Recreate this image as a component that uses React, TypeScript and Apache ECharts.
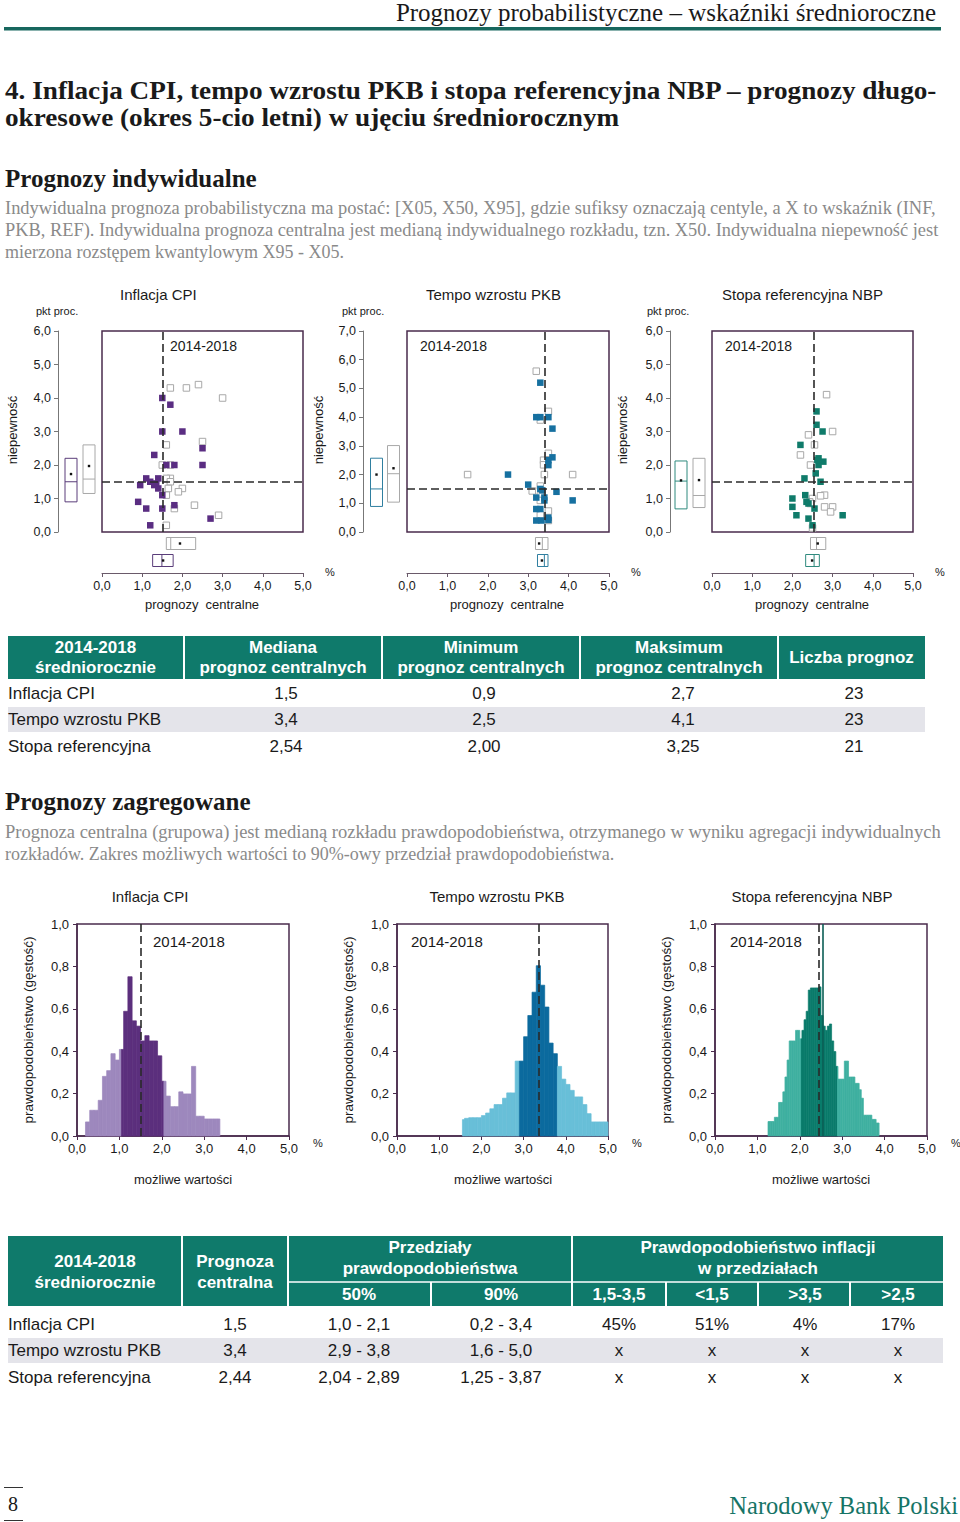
import React, { useEffect, useRef } from "react";
import * as echarts from "echarts";

const SANS = "'Liberation Sans', Arial, Helvetica, sans-serif";
const SERIF = "'Liberation Serif', 'Times New Roman', serif";
const FRAME = "#4a2b4c";
const TEAL = "#0f7a6b";
const GRAYPT = "#a8a8a8";

// ---------- individual forecasts: [central forecast, uncertainty] ----------
const cpiCurrent = [[1.5, 4.0], [1.7, 3.8], [1.5, 3.0], [2.0, 3.0], [2.5, 2.5], [1.3, 2.3], [1.6, 2.0], [1.8, 2.0], [2.5, 2.0], [1.1, 1.6], [0.95, 1.4], [1.2, 1.5], [1.3, 1.4], [1.4, 1.6], [1.4, 1.3], [1.5, 1.1], [0.9, 0.9], [1.1, 0.7], [1.5, 0.7], [1.8, 0.8], [2.7, 0.4], [1.2, 0.2], [1.35, 1.45]];
const cpiPrevious = [[1.7, 4.3], [2.1, 4.3], [2.4, 4.4], [3.0, 4.0], [2.5, 2.7], [1.6, 2.6], [1.5, 2.0], [1.7, 2.0], [1.7, 1.6], [1.6, 1.6], [1.7, 1.5], [1.65, 1.3], [2.0, 1.3], [1.9, 1.2], [1.6, 1.1], [1.8, 0.7], [2.3, 0.8], [2.9, 0.5], [1.6, 0.2]];
const pkbCurrent = [[3.3, 5.2], [3.2, 4.0], [3.3, 4.0], [3.5, 4.0], [3.6, 3.6], [3.6, 2.6], [3.5, 2.5], [3.5, 2.33], [2.5, 2.0], [3.0, 1.65], [3.3, 1.5], [3.7, 1.4], [3.2, 1.2], [3.4, 1.1], [3.4, 1.2], [4.1, 1.1], [3.2, 0.8], [3.3, 0.8], [3.2, 0.4], [3.33, 0.4], [3.5, 0.5], [3.5, 0.42], [3.35, 1.45]];
const pkbPrevious = [[3.2, 5.6], [3.5, 4.2], [3.3, 3.9], [3.5, 2.74], [3.38, 2.5], [3.38, 2.34], [1.5, 2.0], [3.4, 2.0], [4.1, 2.0], [3.3, 1.6], [3.1, 1.43], [3.3, 1.25], [3.3, 1.1], [3.3, 0.6], [3.5, 0.73], [3.5, 0.4]];
const refCurrent = [[2.6, 3.6], [2.6, 3.2], [2.75, 3.0], [2.2, 2.6], [2.65, 2.2], [2.77, 2.1], [2.65, 2.0], [2.58, 1.75], [2.3, 1.6], [2.7, 1.5], [2.0, 1.0], [2.32, 1.1], [2.35, 0.9], [2.0, 0.75], [2.55, 0.7], [2.1, 0.5], [3.25, 0.5], [2.4, 0.4], [2.5, 0.2], [2.4, 0.85], [2.62, 2.15]];
const refPrevious = [[2.85, 4.1], [3.0, 3.0], [2.4, 2.9], [2.55, 2.6], [2.2, 2.3], [2.45, 2.0], [2.8, 1.1], [2.7, 1.08], [2.5, 1.0], [2.43, 0.9], [2.8, 0.75], [3.0, 0.75], [2.95, 0.6], [2.45, 0.85], [2.5, 0.12]];

// box summaries: [low, median, high, mean]
const cpiUncCurrent = [0.9, 1.5, 2.2, 1.73];
const cpiUncPrevious = [1.15, 1.58, 2.6, 1.97];
const cpiCenPrevious = [1.6, 1.71, 2.33, 1.94];
const cpiCenCurrent = [1.26, 1.49, 1.77, 1.52];
const pkbUncCurrent = [0.89, 1.5, 2.57, 2.0];
const pkbUncPrevious = [1.04, 2.03, 3.01, 2.22];
const pkbCenPrevious = [3.18, 3.35, 3.49, 3.27];
const pkbCenCurrent = [3.23, 3.4, 3.49, 3.34];
const refUncCurrent = [0.69, 1.52, 2.12, 1.54];
const refUncPrevious = [0.73, 1.09, 2.2, 1.55];
const refCenPrevious = [2.45, 2.6, 2.83, 2.63];
const refCenCurrent = [2.33, 2.54, 2.67, 2.49];
// median lines (central forecast, uncertainty)
const cpiMedianLines = [1.5, 1.5];
const pkbMedianLines = [3.4, 1.5];
const refMedianLines = [2.54, 1.5];

// ---------- aggregated densities ----------
const cpiBinStart = 0.2, cpiBinStep = 0.1;
const cpiDensity = [0.068, 0.123, 0.123, 0.17, 0.283, 0.31, 0.39, 0.36, 0.41, 0.59, 0.753, 0.545, 0.52, 0.45, 0.475, 0.45, 0.45, 0.38, 0.26, 0.19, 0.14, 0.14, 0.21, 0.2, 0.2, 0.33, 0.095, 0.095, 0.082, 0.082, 0.082, 0.082];
const cpiRange90 = [0.2, 3.37];
const cpiRange50 = [1.05, 2.05];
const cpiCentral = 1.5;

const pkbBinStart = 1.5, pkbBinStep = 0.1;
const pkbDensity = [0.079, 0.085, 0.088, 0.088, 0.088, 0.098, 0.11, 0.13, 0.15, 0.15, 0.18, 0.205, 0.205, 0.355, 0.355, 0.47, 0.57, 0.68, 0.805, 0.713, 0.61, 0.44, 0.39, 0.33, 0.27, 0.245, 0.217, 0.186, 0.186, 0.15, 0.107, 0.068, 0.068, 0.068, 0.068];
const pkbRange90 = [1.55, 5.0];
const pkbRange50 = [2.9, 3.8];
const pkbCentral = 3.35;

const refBinStart = 1.25, refBinStep = 0.05;
const refDensity = [0.07, 0.07, 0.07, 0.09, 0.09, 0.16, 0.16, 0.21, 0.28, 0.36, 0.45, 0.45, 0.45, 0.5, 0.5, 0.46, 0.5, 0.55, 0.59, 0.69, 0.7, 0.7, 0.7, 0.7, 0.705, 0.57, 0.52, 0.5, 0.52, 0.53, 0.45, 0.4, 0.33, 0.27, 0.27, 0.27, 0.355, 0.355, 0.28, 0.28, 0.28, 0.25, 0.25, 0.22, 0.18, 0.1, 0.1, 0.1, 0.1, 0.08, 0.08, 0.063, 0.063];
const refRange90 = [1.25, 3.87];
const refRange50 = [2.04, 2.89];
const refCentral = 2.44;
const refIndividualMedian = 2.54;

// ---------- tables ----------
const table1Rows = ["Inflacja CPI", "Tempo wzrostu PKB", "Stopa referencyjna"];
const table1Median = ["1,5", "3,4", "2,54"];
const table1Min = ["0,9", "2,5", "2,00"];
const table1Max = ["2,7", "4,1", "3,25"];
const table1Count = ["23", "23", "21"];

const table2Central = ["1,5", "3,4", "2,44"];
const table2P50 = ["1,0 - 2,1", "2,9 - 3,8", "2,04 - 2,89"];
const table2P90 = ["0,2 - 3,4", "1,6 - 5,0", "1,25 - 3,87"];
const table2ProbHeads = ["1,5-3,5", "<1,5", ">3,5", ">2,5"];
const table2Probs = [["45%", "51%", "4%", "17%"], ["x", "x", "x", "x"], ["x", "x", "x", "x"]];

const fmt1 = (v: number) => v.toFixed(1).replace(".", ",");

function T(text: string, x: number, y: number, size: number, o: any = {}) {
  const align = o.align || "left";
  return {
    type: "text",
    x,
    y,
    rotation: o.rotation || 0,
    scaleX: o.sx || 1,
    silent: true,
    z: 100,
    style: {
      text,
      fill: o.fill || "#1a1a1a",
      fontSize: size,
      fontFamily: o.family || SANS,
      fontWeight: o.weight || "normal",
      align,
      verticalAlign: "middle",
      textAlign: align,
      textVerticalAlign: "middle",
    },
  };
}
const R = (x: number, y: number, w: number, h: number, fill: string) => ({
  type: "rect", silent: true, z: 50, shape: { x, y, width: w, height: h }, style: { fill },
});
const L = (x1: number, y1: number, x2: number, y2: number, stroke: string, lw = 1) => ({
  type: "line", silent: true, z: 60, shape: { x1, y1, x2, y2 }, style: { stroke, lineWidth: lw },
});

function buildOption() {
  const grid: any[] = [];
  const xAxis: any[] = [];
  const yAxis: any[] = [];
  const series: any[] = [];
  const graphic: any[] = [];
  const lab = { color: "#1a1a1a", fontSize: 12.5, fontFamily: SANS };

  const vBox = (colors: string[]) => (params: any, api: any) => {
    const c = api.value(0);
    const pLo = api.coord([c, api.value(1)]);
    const pMed = api.coord([c, api.value(2)]);
    const pHi = api.coord([c, api.value(3)]);
    const pMean = api.coord([c, api.value(4)]);
    const col = colors[params.dataIndex];
    const hw = 6;
    return {
      type: "group",
      children: [
        { type: "rect", shape: { x: pLo[0] - hw, y: pHi[1], width: 2 * hw, height: pLo[1] - pHi[1] }, style: { fill: "#fff", stroke: col, lineWidth: 1 } },
        { type: "line", shape: { x1: pLo[0] - hw, y1: pMed[1], x2: pLo[0] + hw, y2: pMed[1] }, style: { stroke: col, lineWidth: 1 } },
        { type: "rect", shape: { x: pMean[0] - 1.2, y: pMean[1] - 1.2, width: 2.4, height: 2.4 }, style: { fill: "#111" } },
      ],
    };
  };
  const hBox = (colors: string[]) => (params: any, api: any) => {
    const c = api.value(0);
    const pLo = api.coord([api.value(1), c]);
    const pMed = api.coord([api.value(2), c]);
    const pHi = api.coord([api.value(3), c]);
    const pMean = api.coord([api.value(4), c]);
    const col = colors[params.dataIndex];
    const hh = 6;
    return {
      type: "group",
      children: [
        { type: "rect", shape: { x: pLo[0], y: pLo[1] - hh, width: pHi[0] - pLo[0], height: 2 * hh }, style: { fill: "#fff", stroke: col, lineWidth: 1 } },
        { type: "line", shape: { x1: pMed[0], y1: pLo[1] - hh, x2: pMed[0], y2: pLo[1] + hh }, style: { stroke: col, lineWidth: 1 } },
        { type: "rect", shape: { x: pMean[0] - 1.2, y: pMean[1] - 1.2, width: 2.4, height: 2.4 }, style: { fill: "#111" } },
      ],
    };
  };

  function scatterPanel(p: any) {
    const gi = grid.length;
    grid.push({ left: p.left, top: 331, width: p.w, height: 201, show: true, borderColor: FRAME, borderWidth: 1.5, backgroundColor: "rgba(0,0,0,0)" });
    const xi = xAxis.length;
    xAxis.push({
      type: "value", gridIndex: gi, min: 0, max: 5, interval: 1, offset: 41,
      axisLine: { show: true, onZero: false, lineStyle: { color: "#6a5a6a", width: 1 } },
      axisTick: { show: true, length: 4, lineStyle: { color: "#6a5a6a" } },
      axisLabel: { ...lab, margin: 6, formatter: fmt1 }, splitLine: { show: false },
    });
    const yi = yAxis.length;
    yAxis.push({
      type: "value", gridIndex: gi, min: 0, max: p.yMax, interval: 1, offset: p.yOffset,
      axisLine: { show: true, onZero: false, lineStyle: { color: "#777", width: 1 } },
      axisTick: { show: true, length: 4, lineStyle: { color: "#777" } },
      axisLabel: { ...lab, margin: 7, formatter: fmt1 }, splitLine: { show: false },
    });
    series.push({ type: "scatter", xAxisIndex: xi, yAxisIndex: yi, data: p.previous, symbol: "rect", symbolSize: 6.5, itemStyle: { color: "#ffffff", borderColor: GRAYPT, borderWidth: 1, opacity: 1 }, z: 2, silent: true });
    series.push({ type: "scatter", xAxisIndex: xi, yAxisIndex: yi, data: p.current, symbol: "rect", symbolSize: 6.5, itemStyle: { color: p.color, opacity: 1 }, z: 3, silent: true });
    series.push({
      type: "scatter", xAxisIndex: xi, yAxisIndex: yi, data: [], z: 4,
      markLine: { silent: true, symbol: ["none", "none"], label: { show: false }, lineStyle: { type: [8, 4], color: "#2a2a2a", width: 1.6 }, data: [{ xAxis: p.lines[0] }, { yAxis: p.lines[1] }] },
    });

    // uncertainty boxes (left)
    const gl = grid.length;
    grid.push({ left: p.boxLeft, top: 331, width: p.boxW, height: 201 });
    const xl = xAxis.length;
    xAxis.push({ type: "category", gridIndex: gl, data: ["obecna", "poprzednia"], show: false });
    const yl = yAxis.length;
    yAxis.push({ type: "value", gridIndex: gl, min: 0, max: p.yMax, show: false, splitLine: { show: false } });
    series.push({
      type: "custom", xAxisIndex: xl, yAxisIndex: yl, encode: { x: 0, y: 1 }, silent: true, clip: false,
      renderItem: vBox([p.boxColor, GRAYPT]),
      data: [[0, ...p.uncCurrent], [1, ...p.uncPrevious]],
    });

    // central-forecast boxes (bottom)
    const gb = grid.length;
    grid.push({ left: p.left, top: 535, width: p.w, height: 34 });
    const xb = xAxis.length;
    xAxis.push({ type: "value", gridIndex: gb, min: 0, max: 5, show: false, splitLine: { show: false } });
    const yb = yAxis.length;
    yAxis.push({ type: "category", gridIndex: gb, data: ["poprzednia", "obecna"], inverse: true, show: false });
    series.push({
      type: "custom", xAxisIndex: xb, yAxisIndex: yb, encode: { x: 1, y: 0 }, silent: true, clip: false,
      renderItem: hBox([GRAYPT, p.boxColor]),
      data: [[0, ...p.cenPrevious], [1, ...p.cenCurrent]],
    });

    graphic.push(T(p.title, p.titleX, 294, 15));
    graphic.push(T("pkt proc.", p.pktX, 311, 11));
    graphic.push(T("niepewność", p.uncX, 430, 13, { align: "center", rotation: Math.PI / 2 }));
    graphic.push(T("2014-2018", p.periodX, 346, 14));
    graphic.push(T("%", p.left + p.w + 22, 572, 11));
    graphic.push(T("prognozy  centralne", p.left + 100, 604, 13, { align: "center" }));
  }

  function histPanel(p: any) {
    const gi = grid.length;
    grid.push({ left: p.left, top: 924, width: p.w, height: 212, show: true, borderColor: FRAME, borderWidth: 1.5, backgroundColor: "rgba(0,0,0,0)" });
    const xi = xAxis.length;
    xAxis.push({
      type: "value", gridIndex: gi, min: 0, max: 5, interval: 1,
      axisLine: { show: true, onZero: false, lineStyle: { color: FRAME, width: 1.5 } },
      axisTick: { show: true, length: 4, lineStyle: { color: FRAME } },
      axisLabel: { ...lab, fontSize: 13, margin: 6, formatter: fmt1 }, splitLine: { show: false },
    });
    const yi = yAxis.length;
    yAxis.push({
      type: "value", gridIndex: gi, min: 0, max: 1, interval: 0.2,
      axisLine: { show: true, onZero: false, lineStyle: { color: FRAME, width: 1.5 } },
      axisTick: { show: true, length: 4, lineStyle: { color: FRAME } },
      axisLabel: { ...lab, fontSize: 13, margin: 8, formatter: fmt1 }, splitLine: { show: false },
    });
    const [c0, c1] = p.r90;
    const [d0, d1] = p.r50;
    const data = p.heights.map((h: number, i: number) => [+(p.start + i * p.step).toFixed(3), +(p.start + (i + 1) * p.step).toFixed(3), h]);
    series.push({
      type: "custom", xAxisIndex: xi, yAxisIndex: yi, encode: { x: [0, 1], y: 2 }, silent: true, z: 2,
      data,
      renderItem: (params: any, api: any) => {
        const l = api.value(0), r = api.value(1), h = api.value(2);
        const a = Math.max(l, c0), b = Math.min(r, c1);
        const children: any[] = [];
        const segs: any[] = [];
        const push = (s: number, e: number, c: string) => { if (e > s + 1e-9) segs.push([s, e, c]); };
        if (b > a) {
          push(a, Math.min(b, d0), p.light);
          push(Math.max(a, d0), Math.min(b, d1), p.dark);
          push(Math.max(a, d1), b, p.light);
        }
        for (const [s, e, c] of segs) {
          const p0 = api.coord([s, h]);
          const p1 = api.coord([e, 0]);
          children.push({
            type: "rect",
            shape: { x: p0[0], y: p0[1] + 0.35, width: p1[0] - p0[0], height: p1[1] - p0[1] - 0.35 },
            style: { fill: c, stroke: c, lineWidth: 0.7 },
          });
        }
        return { type: "group", children };
      },
    });
    series.push({
      type: "scatter", xAxisIndex: xi, yAxisIndex: yi, data: [], z: 5,
      markLine: {
        silent: true, symbol: ["none", "none"], label: { show: false },
        data: p.lines.map((l: any) => ({ xAxis: l.x, lineStyle: { type: l.type, color: l.color, width: 1.6 } })),
      },
    });
    graphic.push(T(p.title, p.titleX, 896, 15, { align: "center" }));
    graphic.push(T("2014-2018", p.periodX, 941, 15));
    graphic.push(T("%", p.left + p.w + 24, 1143, 11));
    graphic.push(T("możliwe wartości", p.left + 106, 1179, 13, { align: "center" }));
    graphic.push(T("prawdopodobieństwo (gęstość)", p.left - 49, 1030, 13.5, { align: "center", rotation: Math.PI / 2 }));
  }

  scatterPanel({
    left: 102, w: 201, yMax: 6, yOffset: 44, boxLeft: 62, boxW: 36, color: "#5a2d82", boxColor: "#5a3d7a",
    current: cpiCurrent, previous: cpiPrevious, lines: cpiMedianLines,
    uncCurrent: cpiUncCurrent, uncPrevious: cpiUncPrevious, cenCurrent: cpiCenCurrent, cenPrevious: cpiCenPrevious,
    title: "Inflacja CPI", titleX: 120, pktX: 36, uncX: 12, periodX: 170,
  });
  scatterPanel({
    left: 407, w: 202, yMax: 7, yOffset: 44, boxLeft: 368, boxW: 34, color: "#1670a0", boxColor: "#2f7fa0",
    current: pkbCurrent, previous: pkbPrevious, lines: pkbMedianLines,
    uncCurrent: pkbUncCurrent, uncPrevious: pkbUncPrevious, cenCurrent: pkbCenCurrent, cenPrevious: pkbCenPrevious,
    title: "Tempo wzrostu PKB", titleX: 426, pktX: 342, uncX: 318, periodX: 420,
  });
  scatterPanel({
    left: 712, w: 201, yMax: 6, yOffset: 42, boxLeft: 672, boxW: 36, color: "#0f7b6a", boxColor: "#2f8a7e",
    current: refCurrent, previous: refPrevious, lines: refMedianLines,
    uncCurrent: refUncCurrent, uncPrevious: refUncPrevious, cenCurrent: refCenCurrent, cenPrevious: refCenPrevious,
    title: "Stopa referencyjna NBP", titleX: 722, pktX: 647, uncX: 622, periodX: 725,
  });

  histPanel({
    left: 77, w: 212, start: cpiBinStart, step: cpiBinStep, heights: cpiDensity, r90: cpiRange90, r50: cpiRange50,
    light: "#9d88bd", dark: "#5b2f7d", lines: [{ x: cpiCentral, type: [8, 4], color: "#2a2a2a" }],
    title: "Inflacja CPI", titleX: 150, periodX: 153,
  });
  histPanel({
    left: 397, w: 211, start: pkbBinStart, step: pkbBinStep, heights: pkbDensity, r90: pkbRange90, r50: pkbRange50,
    light: "#68bfd8", dark: "#0b6a9e", lines: [{ x: pkbCentral, type: [8, 4], color: "#2a2a2a" }],
    title: "Tempo wzrostu PKB", titleX: 497, periodX: 411,
  });
  histPanel({
    left: 715, w: 212, start: refBinStart, step: refBinStep, heights: refDensity, r90: refRange90, r50: refRange50,
    light: "#3fb0a0", dark: "#0a7b6b",
    lines: [{ x: refCentral, type: [8, 4], color: "#2a2a2a" }, { x: refIndividualMedian, type: "solid", color: "#0b5e55" }],
    title: "Stopa referencyjna NBP", titleX: 812, periodX: 730,
  });

  // ---------- page texts ----------
  graphic.push(T("Prognozy probabilistyczne – wskaźniki średnioroczne", 936, 12, 25, { align: "right", family: SERIF }));
  graphic.push(R(4, 27, 937, 3.5, "#17675e"));
  graphic.push(T("4. Inflacja CPI, tempo wzrostu PKB i stopa referencyjna NBP – prognozy długo-", 5, 91, 24.5, { weight: "bold", family: SERIF, sx: 1.11 }));
  graphic.push(T("okresowe (okres 5-cio letni) w ujęciu średniorocznym", 5, 118, 24.5, { weight: "bold", family: SERIF, sx: 1.11 }));
  graphic.push(T("Prognozy indywidualne", 5, 178, 25, { weight: "bold", family: SERIF }));
  const para = { family: SERIF, fill: "#8a8a8a" };
  graphic.push(T("Indywidualna prognoza probabilistyczna ma postać: [X05, X50, X95], gdzie sufiksy oznaczają centyle, a X to wskaźnik (INF,", 5, 208, 18, { ...para, sx: 1.026 }));
  graphic.push(T("PKB, REF). Indywidualna prognoza centralna jest medianą indywidualnego rozkładu, tzn. X50. Indywidualna niepewność jest", 5, 230, 18, { ...para, sx: 1.022 }));
  graphic.push(T("mierzona rozstępem kwantylowym X95 - X05.", 5, 252, 18, para));
  graphic.push(T("Prognozy zagregowane", 5, 801, 25, { weight: "bold", family: SERIF }));
  graphic.push(T("Prognoza centralna (grupowa) jest medianą rozkładu prawdopodobieństwa, otrzymanego w wyniku agregacji indywidualnych", 5, 832, 18, { ...para, sx: 1.03 }));
  graphic.push(T("rozkładów. Zakres możliwych wartości to 90%-owy przedział prawdopodobieństwa.", 5, 854, 18, para));

  // ---------- table 1 ----------
  const hw = { fill: "#ffffff", weight: "bold", align: "center" };
  graphic.push(R(8, 636, 917, 43, TEAL));
  [184, 382, 580, 778].forEach((x) => graphic.push(L(x, 636, x, 679, "#ffffff", 2)));
  graphic.push(T("2014-2018", 95.5, 647, 17, hw));
  graphic.push(T("średniorocznie", 95.5, 667, 17, hw));
  graphic.push(T("Mediana", 283, 647, 17, hw));
  graphic.push(T("prognoz centralnych", 283, 667, 17, hw));
  graphic.push(T("Minimum", 481, 647, 17, hw));
  graphic.push(T("prognoz centralnych", 481, 667, 17, hw));
  graphic.push(T("Maksimum", 679, 647, 17, hw));
  graphic.push(T("prognoz centralnych", 679, 667, 17, hw));
  graphic.push(T("Liczba prognoz", 851.5, 657, 17, hw));
  graphic.push(R(8, 707, 917, 25, "#e4e4ea"));
  const r1y = [693, 719.5, 746];
  table1Rows.forEach((name, i) => {
    graphic.push(T(name, 8, r1y[i], 17));
    graphic.push(T(table1Median[i], 286, r1y[i], 17, { align: "center" }));
    graphic.push(T(table1Min[i], 484, r1y[i], 17, { align: "center" }));
    graphic.push(T(table1Max[i], 683, r1y[i], 17, { align: "center" }));
    graphic.push(T(table1Count[i], 854, r1y[i], 17, { align: "center" }));
  });

  // ---------- table 2 ----------
  graphic.push(R(8, 1236, 935, 70, TEAL));
  [182, 288, 572].forEach((x) => graphic.push(L(x, 1236, x, 1306, "#ffffff", 2)));
  graphic.push(L(288, 1282, 943, 1282, "#ffffff", 1.5));
  [431, 666, 758, 850].forEach((x) => graphic.push(L(x, 1282, x, 1306, "#ffffff", 2)));
  graphic.push(T("2014-2018", 95, 1261, 17, hw));
  graphic.push(T("średniorocznie", 95, 1282, 17, hw));
  graphic.push(T("Prognoza", 235, 1261, 17, hw));
  graphic.push(T("centralna", 235, 1282, 17, hw));
  graphic.push(T("Przedziały", 430, 1247, 17, hw));
  graphic.push(T("prawdopodobieństwa", 430, 1268, 17, hw));
  graphic.push(T("50%", 359, 1294, 17, hw));
  graphic.push(T("90%", 501, 1294, 17, hw));
  graphic.push(T("Prawdopodobieństwo inflacji", 758, 1247, 17, hw));
  graphic.push(T("w przedziałach", 758, 1268, 17, hw));
  const probX = [619, 712, 805, 898];
  table2ProbHeads.forEach((h, j) => graphic.push(T(h, probX[j], 1294, 17, hw)));
  graphic.push(R(8, 1338, 935, 25, "#e4e4ea"));
  const r2y = [1324, 1350.5, 1377];
  table1Rows.forEach((name, i) => {
    graphic.push(T(name, 8, r2y[i], 17));
    graphic.push(T(table2Central[i], 235, r2y[i], 17, { align: "center" }));
    graphic.push(T(table2P50[i], 359, r2y[i], 17, { align: "center" }));
    graphic.push(T(table2P90[i], 501, r2y[i], 17, { align: "center" }));
    table2Probs[i].forEach((v, j) => graphic.push(T(v, probX[j], r2y[i], 17, { align: "center" })));
  });

  // ---------- footer ----------
  graphic.push(L(4, 1487.5, 23, 1487.5, "#333", 1));
  graphic.push(L(4, 1520.5, 23, 1520.5, "#333", 1));
  graphic.push(T("8", 13, 1504, 20, { align: "center", family: SERIF }));
  graphic.push(T("Narodowy Bank Polski", 958, 1505, 24.5, { align: "right", family: SERIF, fill: "#167466" }));

  return { animation: false, backgroundColor: "#ffffff", grid, xAxis, yAxis, series, graphic: { elements: graphic } };
}

export default function App() {
  const ref = useRef<HTMLDivElement>(null);
  useEffect(() => {
    const chart = echarts.init(ref.current as HTMLDivElement, null, { renderer: "svg" });
    chart.setOption(buildOption() as any);
    return () => chart.dispose();
  }, []);
  return <div ref={ref} style={{ position: "absolute", left: 0, top: 0, width: 960, height: 1522, background: "#fff" }} />;
}
